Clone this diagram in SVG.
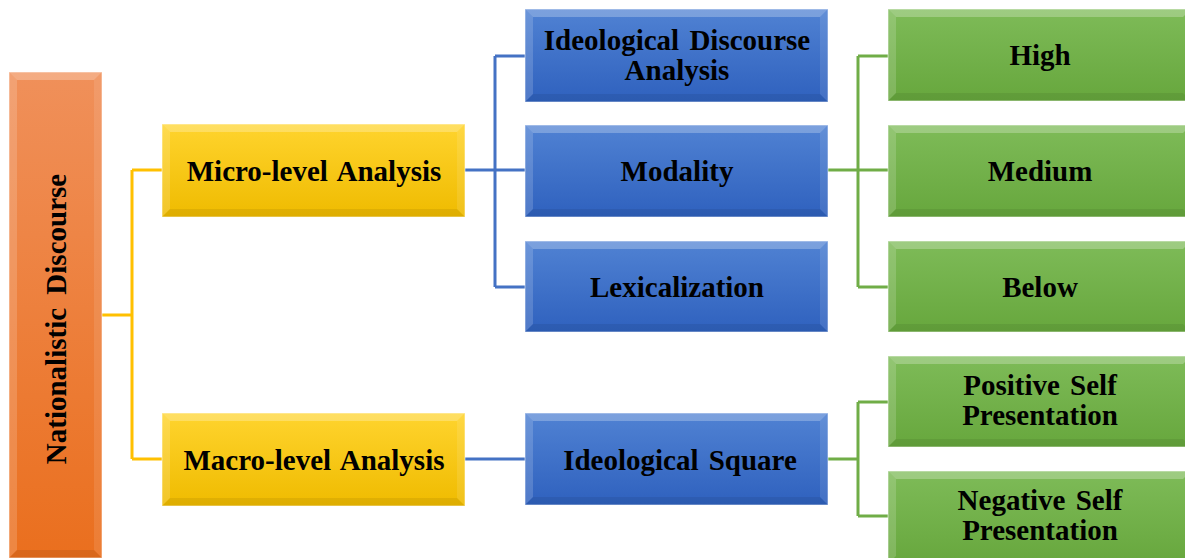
<svg xmlns="http://www.w3.org/2000/svg" width="1185" height="558" viewBox="0 0 1185 558">
<defs>
<linearGradient id="gO" x1="0" y1="0" x2="0" y2="1"><stop offset="0" stop-color="#F0905A"/><stop offset="1" stop-color="#EA6F1E"/></linearGradient>
<linearGradient id="gY" x1="0" y1="0" x2="0" y2="1"><stop offset="0" stop-color="#FFD42E"/><stop offset="1" stop-color="#EFBB00"/></linearGradient>
<linearGradient id="gB" x1="0" y1="0" x2="0" y2="1"><stop offset="0" stop-color="#5082D3"/><stop offset="1" stop-color="#2F61BE"/></linearGradient>
<linearGradient id="gG" x1="0" y1="0" x2="0" y2="1"><stop offset="0" stop-color="#7EBB58"/><stop offset="1" stop-color="#67A73D"/></linearGradient>
</defs>
<style>
.bt{fill:#fff;fill-opacity:.25}
.bl{fill:#fff;fill-opacity:.16}
.br{fill:#fff;fill-opacity:.10}
.bb{fill:#000;fill-opacity:.07}
.ol{fill:none;stroke:#fff;stroke-opacity:.45;stroke-width:1.2}
text{font-family:"Liberation Serif","Times New Roman",serif;font-weight:bold;font-size:29px;fill:#000;text-anchor:middle;word-spacing:3px}
.cy{fill:none;stroke:#FFC000;stroke-width:3}
.cb{fill:none;stroke:#4472C4;stroke-width:3}
.cg{fill:none;stroke:#70AD47;stroke-width:3}
</style>
<rect width="1185" height="558" fill="#fff"/>
<g id="connectors">
<path class="cy" d="M102,315 H132 M132,170 V459 M132,170 H162 M132,459 H162"/>
<path class="cb" d="M465,170 H525 M495,56 V287 M495,56 H525 M495,287 H525 M465,459 H525"/>
<path class="cg" d="M828,170 H888 M858,56 V287 M858,56 H888 M858,287 H888 M828,459 H858 M858,402 V516 M858,402 H888 M858,516 H888"/>
</g>
<g id="n-root">
<rect x="9" y="72" width="93" height="486" fill="url(#gO)"/>
<polygon class="bt" points="9,72 102,72 94,80 17,80"/>
<polygon class="bl" points="9,72 17,80 17,550 9,558"/>
<polygon class="br" points="102,72 102,558 94,550 94,80"/>
<polygon class="bb" points="9,558 102,558 94,550 17,550"/>
<rect class="ol" x="9" y="72" width="93" height="486"/>
<text transform="translate(66,319) rotate(-90)" x="0" y="0" style="word-spacing:6px">Nationalistic Discourse</text>
</g>
<g id="n-micro">
<rect x="162" y="124" width="303" height="93" fill="url(#gY)"/>
<polygon class="bt" points="162,124 465,124 457,132 170,132"/>
<polygon class="bl" points="162,124 170,132 170,209 162,217"/>
<polygon class="br" points="465,124 465,217 457,209 457,132"/>
<polygon class="bb" points="162,217 465,217 457,209 170,209"/>
<rect class="ol" x="162" y="124" width="303" height="93"/>
<text x="314" y="181">Micro-level Analysis</text>
</g>
<g id="n-macro">
<rect x="162" y="413" width="303" height="93" fill="url(#gY)"/>
<polygon class="bt" points="162,413 465,413 457,421 170,421"/>
<polygon class="bl" points="162,413 170,421 170,498 162,506"/>
<polygon class="br" points="465,413 465,506 457,498 457,421"/>
<polygon class="bb" points="162,506 465,506 457,498 170,498"/>
<rect class="ol" x="162" y="413" width="303" height="93"/>
<text x="314" y="470">Macro-level Analysis</text>
</g>
<g id="n-ida">
<rect x="525" y="9" width="303" height="93" fill="url(#gB)"/>
<polygon class="bt" points="525,9 828,9 820,17 533,17"/>
<polygon class="bl" points="525,9 533,17 533,94 525,102"/>
<polygon class="br" points="828,9 828,102 820,94 820,17"/>
<polygon class="bb" points="525,102 828,102 820,94 533,94"/>
<rect class="ol" x="525" y="9" width="303" height="93"/>
<text x="677" y="50">Ideological Discourse</text>
<text x="677" y="80">Analysis</text>
</g>
<g id="n-modality">
<rect x="525" y="125" width="303" height="92" fill="url(#gB)"/>
<polygon class="bt" points="525,125 828,125 820,133 533,133"/>
<polygon class="bl" points="525,125 533,133 533,209 525,217"/>
<polygon class="br" points="828,125 828,217 820,209 820,133"/>
<polygon class="bb" points="525,217 828,217 820,209 533,209"/>
<rect class="ol" x="525" y="125" width="303" height="92"/>
<text x="677" y="181">Modality</text>
</g>
<g id="n-lex">
<rect x="525" y="241" width="303" height="91" fill="url(#gB)"/>
<polygon class="bt" points="525,241 828,241 820,249 533,249"/>
<polygon class="bl" points="525,241 533,249 533,324 525,332"/>
<polygon class="br" points="828,241 828,332 820,324 820,249"/>
<polygon class="bb" points="525,332 828,332 820,324 533,324"/>
<rect class="ol" x="525" y="241" width="303" height="91"/>
<text x="677" y="297">Lexicalization</text>
</g>
<g id="n-square">
<rect x="525" y="413" width="303" height="92" fill="url(#gB)"/>
<polygon class="bt" points="525,413 828,413 820,421 533,421"/>
<polygon class="bl" points="525,413 533,421 533,497 525,505"/>
<polygon class="br" points="828,413 828,505 820,497 820,421"/>
<polygon class="bb" points="525,505 828,505 820,497 533,497"/>
<rect class="ol" x="525" y="413" width="303" height="92"/>
<text x="680" y="470">Ideological Square</text>
</g>
<g id="n-high">
<rect x="888" y="9" width="303" height="92" fill="url(#gG)"/>
<polygon class="bt" points="888,9 1191,9 1183,17 896,17"/>
<polygon class="bl" points="888,9 896,17 896,93 888,101"/>
<polygon class="bb" points="888,101 1191,101 1183,93 896,93"/>
<rect class="ol" x="888" y="9" width="303" height="92"/>
<text x="1040" y="65">High</text>
</g>
<g id="n-medium">
<rect x="888" y="125" width="303" height="92" fill="url(#gG)"/>
<polygon class="bt" points="888,125 1191,125 1183,133 896,133"/>
<polygon class="bl" points="888,125 896,133 896,209 888,217"/>
<polygon class="bb" points="888,217 1191,217 1183,209 896,209"/>
<rect class="ol" x="888" y="125" width="303" height="92"/>
<text x="1040" y="181">Medium</text>
</g>
<g id="n-below">
<rect x="888" y="241" width="303" height="91" fill="url(#gG)"/>
<polygon class="bt" points="888,241 1191,241 1183,249 896,249"/>
<polygon class="bl" points="888,241 896,249 896,324 888,332"/>
<polygon class="bb" points="888,332 1191,332 1183,324 896,324"/>
<rect class="ol" x="888" y="241" width="303" height="91"/>
<text x="1040" y="297">Below</text>
</g>
<g id="n-positive">
<rect x="888" y="356" width="303" height="91" fill="url(#gG)"/>
<polygon class="bt" points="888,356 1191,356 1183,364 896,364"/>
<polygon class="bl" points="888,356 896,364 896,439 888,447"/>
<polygon class="bb" points="888,447 1191,447 1183,439 896,439"/>
<rect class="ol" x="888" y="356" width="303" height="91"/>
<text x="1040" y="395">Positive Self</text>
<text x="1040" y="425">Presentation</text>
</g>
<g id="n-negative">
<rect x="888" y="471" width="303" height="93" fill="url(#gG)"/>
<polygon class="bt" points="888,471 1191,471 1183,479 896,479"/>
<polygon class="bl" points="888,471 896,479 896,556 888,564"/>
<rect class="ol" x="888" y="471" width="303" height="93"/>
<text x="1040" y="510">Negative Self</text>
<text x="1040" y="540">Presentation</text>
</g>
</svg>
